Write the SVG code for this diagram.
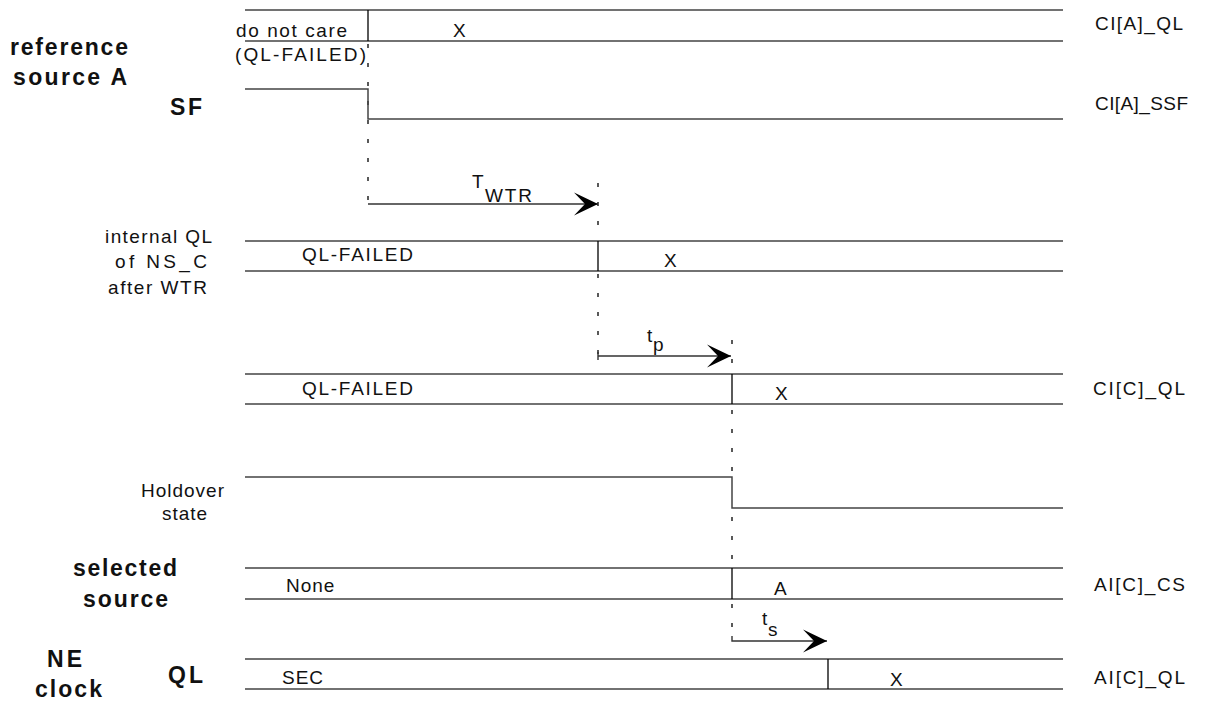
<svg xmlns="http://www.w3.org/2000/svg" width="1205" height="704" viewBox="0 0 1205 704">
<style>
text{font-family:"Liberation Sans",Arial,sans-serif;font-size:19px;fill:#111}
.b{font-weight:bold;font-size:23px}
.m{text-anchor:middle}
.sp{letter-spacing:1px}
.ln{stroke:#444;stroke-width:1.5;fill:none}
.dv{stroke:#000;stroke-width:1.3;fill:none}
.ds{stroke:#000;stroke-width:1.3;stroke-dasharray:4 15;fill:none}
.ar{stroke:#333;stroke-width:1.4;fill:none}
</style>
<defs>
<marker id="ah" markerUnits="userSpaceOnUse" markerWidth="26" markerHeight="26" refX="24" refY="12" orient="auto">
<path d="M24,12 L0,0.5 L11,12 L0,23.5 Z" fill="#000"/>
</marker>
</defs>
<g id="connectors">
<path class="ds" d="M368,44 V205"/>
<path class="ds" d="M598,183 V238"/>
<path class="ds" d="M598,274 V356"/>
<path class="ds" d="M732,340 V373"/>
<path class="ds" d="M732,410 V476"/>
<path class="ds" d="M732,517 V566"/>
<path class="ds" d="M732,604 V642"/>
<path class="ar" d="M368,204 H598" marker-end="url(#ah)"/>
<path class="ar" d="M598,352 V360 M598,356 H731" marker-end="url(#ah)"/>
<path class="ar" d="M732,636 V641 H827" marker-end="url(#ah)"/>
</g>
<g id="refA-ql">
<path class="ln" d="M245,10 H1063 M245,41 H1063"/>
<path class="dv" d="M368,10 V41"/>
<text x="236" y="37" textLength="111" lengthAdjust="spacing">do not care</text>
<text x="235" y="61" textLength="131" lengthAdjust="spacing">(QL-FAILED)</text>
<text x="453" y="37">X</text>
<text x="1095" y="30" textLength="88" lengthAdjust="spacing">CI[A]_QL</text>
</g>
<g id="refA-labels">
<text class="b" x="10" y="55" textLength="118" lengthAdjust="spacing">reference</text>
<text class="b" x="13" y="85" textLength="114" lengthAdjust="spacing">source A</text>
</g>
<g id="refA-sf">
<text class="b" x="170" y="115" textLength="32" lengthAdjust="spacing">SF</text>
<path class="ln" d="M245,89 H368 V119 H1063"/>
<text x="1095" y="110" textLength="93" lengthAdjust="spacing">CI[A]_SSF</text>
</g>
<g id="twtr">
<text x="472" y="188">T</text>
<text x="485" y="202" textLength="47" lengthAdjust="spacing">WTR</text>
</g>
<g id="internal-ql">
<text x="105" y="243" textLength="107" lengthAdjust="spacing">internal QL</text>
<text x="115" y="268" textLength="92" lengthAdjust="spacing">of NS_C</text>
<text x="108" y="294" textLength="99" lengthAdjust="spacing">after WTR</text>
<path class="ln" d="M245,241 H1063 M245,271 H1063"/>
<path class="dv" d="M598,241 V271"/>
<text x="302" y="261" textLength="111" lengthAdjust="spacing">QL-FAILED</text>
<text x="664" y="267">X</text>
</g>
<g id="tp">
<text x="647" y="342">t</text>
<text x="653" y="351">p</text>
</g>
<g id="ci-c-ql">
<path class="ln" d="M245,374 H1063 M245,404 H1063"/>
<path class="dv" d="M732,374 V404"/>
<text x="302" y="395" textLength="111" lengthAdjust="spacing">QL-FAILED</text>
<text x="775" y="400">X</text>
<text x="1093" y="395" textLength="92" lengthAdjust="spacing">CI[C]_QL</text>
</g>
<g id="holdover">
<text class="m sp" x="183" y="497">Holdover</text>
<text class="m sp" x="185" y="520">state</text>
<path class="ln" d="M245,477 H732 V508 H1063"/>
</g>
<g id="selected-source">
<text class="b" x="73" y="576" textLength="104" lengthAdjust="spacing">selected</text>
<text class="b" x="83" y="607" textLength="85" lengthAdjust="spacing">source</text>
<path class="ln" d="M245,568 H1063 M245,599 H1063"/>
<path class="dv" d="M732,568 V599"/>
<text class="sp" x="286" y="592">None</text>
<text x="774" y="595">A</text>
<text x="1094" y="591" textLength="91" lengthAdjust="spacing">AI[C]_CS</text>
</g>
<g id="ts">
<text x="762" y="625">t</text>
<text x="768" y="636">s</text>
</g>
<g id="ne-clock">
<text class="b" x="47" y="667" textLength="35" lengthAdjust="spacing">NE</text>
<text class="b" x="35" y="697" textLength="67" lengthAdjust="spacing">clock</text>
<text class="b" x="168" y="683" textLength="35" lengthAdjust="spacing">QL</text>
<path class="ln" d="M245,659 H1063 M245,689 H1063"/>
<path class="dv" d="M828,659 V689"/>
<text class="sp" x="282" y="684">SEC</text>
<text x="890" y="686">X</text>
<text x="1094" y="684" textLength="91" lengthAdjust="spacing">AI[C]_QL</text>
</g>
</svg>
